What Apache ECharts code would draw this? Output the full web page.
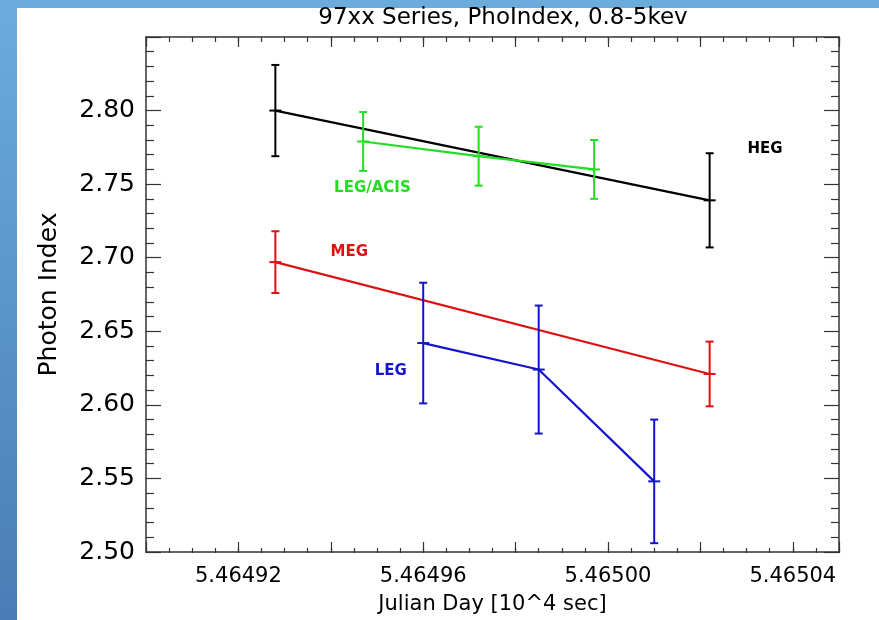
<!DOCTYPE html>
<html>
<head>
<meta charset="utf-8">
<script src="https://cdn.jsdelivr.net/npm/echarts@6/dist/echarts.min.js"></script>
<style>
html,body{margin:0;padding:0;width:879px;height:620px;overflow:hidden;}
body{background:linear-gradient(to bottom,#6cacdc,#4a7db5);position:relative;}
#panel{position:absolute;left:17px;top:8px;right:0;bottom:0;background:#ffffff;}
#chart{position:absolute;left:0;top:0;width:879px;height:620px;}
</style>
</head>
<body>
<div id="panel"></div>
<div id="chart"></div>
<script>
// ---- data ----
const titleText = '97xx Series, PhoIndex, 0.8-5kev';
const xName = 'Julian Day [10^4 sec]';
const yName = 'Photon Index';
const xTickLabels = ['5.46492', '5.46496', '5.46500', '5.46504'];
const yTickLabels = ['2.50', '2.55', '2.60', '2.65', '2.70', '2.75', '2.80'];

const hegX = [5.464928, 5.465022];
const hegY = [2.800, 2.739];
const hegErr = [0.031, 0.032];

const megX = [5.464928, 5.465022];
const megY = [2.697, 2.621];
const megErr = [0.021, 0.022];

const acisX = [5.464947, 5.464972, 5.464997];
const acisY = [2.779, 2.769, 2.760];
const acisErr = [0.020, 0.020, 0.020];

const legX = [5.464960, 5.464985, 5.465010];
const legY = [2.642, 2.624, 2.548];
const legErr = [0.041, 0.0435, 0.042];

// ---- chart ----
const chart = echarts.init(document.getElementById('chart'), null, {renderer: 'canvas'});
const FONT = 'DejaVu Sans';
const AX = '#333333';
const X_MIN = 5.46490, X_MAX = 5.46505, Y_MIN = 2.50, Y_MAX = 2.85;

function pairs(xs, ys) { return xs.map((x, i) => [x, ys[i]]); }
function errData(xs, ys, es) { return xs.map((x, i) => [x, ys[i], es[i]]); }

function errorSeries(name, xs, ys, es, color) {
  return {
    type: 'custom', name: name + ' err', xAxisIndex: 0, yAxisIndex: 0, z: 3,
    data: errData(xs, ys, es),
    renderItem: function (params, api) {
      const x = api.value(0), y = api.value(1), e = api.value(2);
      const c = api.coord([x, y]);
      const t = api.coord([x, y + e]);
      const b = api.coord([x, y - e]);
      const st = {stroke: color, lineWidth: 2};
      return {
        type: 'group',
        children: [
          {type: 'line', shape: {x1: c[0], y1: t[1], x2: c[0], y2: b[1]}, style: st},
          {type: 'line', shape: {x1: c[0] - 4, y1: t[1], x2: c[0] + 4, y2: t[1]}, style: st},
          {type: 'line', shape: {x1: c[0] - 4, y1: b[1], x2: c[0] + 4, y2: b[1]}, style: st},
          {type: 'line', shape: {x1: c[0] - 6, y1: c[1], x2: c[0] + 6, y2: c[1]}, style: st}
        ]
      };
    }
  };
}

function lineSeries(name, xs, ys, color, labelCoord) {
  return {
    type: 'line', name: name, xAxisIndex: 0, yAxisIndex: 0, z: 2,
    data: pairs(xs, ys), symbol: 'none', silent: true,
    lineStyle: {color: color, width: 2.2},
    markPoint: {
      symbol: 'circle', symbolSize: 0, silent: true,
      label: {show: true, position: 'inside', formatter: name, color: color,
              fontFamily: FONT, fontWeight: 'bold', fontSize: 15},
      data: [{coord: labelCoord}]
    }
  };
}

const grid = {left: 146, right: 40, top: 37, bottom: 67};
const axLine = {show: true, onZero: false, lineStyle: {color: AX, width: 1.5}};

const option = {
  animation: false,
  backgroundColor: 'transparent',
  graphic: [{
    type: 'text', x: 503, y: 18,
    style: {text: titleText, fill: '#000', font: '23px "DejaVu Sans"', textAlign: 'center', textVerticalAlign: 'middle'}
  }],
  grid: [grid, Object.assign({}, grid)],
  xAxis: [
    { // bottom major with labels
      type: 'value', gridIndex: 0, position: 'bottom', min: X_MIN, max: X_MAX, interval: 0.00002,
      axisLine: axLine, splitLine: {show: false},
      axisTick: {show: true, inside: true, length: 10, lineStyle: {color: AX, width: 1.2}},
      axisLabel: {
        show: true, margin: 14, color: '#000', fontFamily: FONT, fontSize: 21,
        showMinLabel: true, showMaxLabel: true,
        formatter: function (v) { const s = v.toFixed(5); return xTickLabels.indexOf(s) >= 0 ? s : ''; }
      },
      name: xName, nameLocation: 'middle', nameGap: 42,
      nameTextStyle: {color: '#000', fontFamily: FONT, fontSize: 21}
    },
    { // top major
      type: 'value', gridIndex: 0, position: 'top', min: X_MIN, max: X_MAX, interval: 0.00002,
      axisLine: axLine, splitLine: {show: false},
      axisTick: {show: true, inside: true, length: 10, lineStyle: {color: AX, width: 1.2}},
      axisLabel: {show: false}
    },
    { // bottom minor
      type: 'value', gridIndex: 1, position: 'bottom', min: X_MIN, max: X_MAX, interval: 0.000005,
      axisLine: {show: false}, splitLine: {show: false},
      axisTick: {show: true, inside: true, length: 5, lineStyle: {color: AX, width: 1.2}},
      axisLabel: {show: false}
    },
    { // top minor
      type: 'value', gridIndex: 1, position: 'top', min: X_MIN, max: X_MAX, interval: 0.000005,
      axisLine: {show: false}, splitLine: {show: false},
      axisTick: {show: true, inside: true, length: 5, lineStyle: {color: AX, width: 1.2}},
      axisLabel: {show: false}
    }
  ],
  yAxis: [
    {
      type: 'value', gridIndex: 0, position: 'left', min: Y_MIN, max: Y_MAX, interval: 0.05,
      axisLine: axLine, splitLine: {show: false},
      axisTick: {show: true, inside: true, length: 15, lineStyle: {color: AX, width: 1.2}},
      minorTick: {show: true, splitNumber: 5, length: 8, lineStyle: {color: AX, width: 1.2}},
      axisLabel: {
        show: true, margin: 11, color: '#000', fontFamily: FONT, fontSize: 25, showMaxLabel: false,
        formatter: function (v) { const s = v.toFixed(2); return yTickLabels.indexOf(s) >= 0 ? s : ''; }
      },
      name: yName, nameLocation: 'middle', nameGap: 84,
      nameTextStyle: {color: '#000', fontFamily: FONT, fontSize: 25}
    },
    {
      type: 'value', gridIndex: 0, position: 'right', min: Y_MIN, max: Y_MAX, interval: 0.05,
      axisLine: axLine, splitLine: {show: false},
      axisTick: {show: true, inside: true, length: 15, lineStyle: {color: AX, width: 1.2}},
      minorTick: {show: true, splitNumber: 5, length: 8, lineStyle: {color: AX, width: 1.2}},
      axisLabel: {show: false}
    },
    {
      type: 'value', gridIndex: 1, min: Y_MIN, max: Y_MAX, show: false
    }
  ],
  series: [
    lineSeries('HEG', hegX, hegY, '#000000', [5.465034, 2.7735]),
    errorSeries('HEG', hegX, hegY, hegErr, '#000000'),
    lineSeries('LEG/ACIS', acisX, acisY, '#22dd22', [5.464949, 2.747]),
    errorSeries('LEG/ACIS', acisX, acisY, acisErr, '#22dd22'),
    lineSeries('MEG', megX, megY, '#dd1111', [5.464944, 2.7036]),
    errorSeries('MEG', megX, megY, megErr, '#dd1111'),
    lineSeries('LEG', legX, legY, '#1414cc', [5.464953, 2.623]),
    errorSeries('LEG', legX, legY, legErr, '#1414cc')
  ]
};
chart.setOption(option);
</script>
</body>
</html>
